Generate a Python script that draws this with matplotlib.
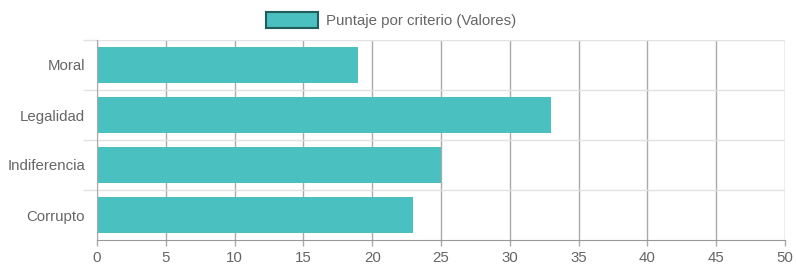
import matplotlib.pyplot as plt
from matplotlib.patches import Patch
import numpy as np

plt.rcParams['font.family'] = ['Liberation Sans', 'DejaVu Sans']

# Data
categories = ['Moral', 'Legalidad', 'Indiferencia', 'Corrupto']
values = [19, 33, 25, 23]
x_ticks = [0, 5, 10, 15, 20, 25, 30, 35, 40, 45, 50]
legend_label = 'Puntaje por criterio (Valores)'

bar_color = '#4BC0C0'
text_color = '#666666'
fs = 10.8

fig = plt.figure(figsize=(7.96, 2.75), dpi=100)
ax = fig.add_axes([97 / 796, 1 - 240 / 275, (785 - 97) / 796, 200 / 275])

y = np.arange(len(categories))
ax.barh(y, values, height=0.72, color=bar_color, zorder=2)

ax.set_xlim(0, 50)
ax.set_ylim(len(categories) - 0.5, -0.5)

# x axis
ax.set_xticks(x_ticks)
ax.set_xticklabels([str(t) for t in x_ticks])
ax.tick_params(axis='x', length=4, width=1, color='#aaaaaa', pad=4,
               labelsize=fs, labelcolor=text_color)
ax.grid(axis='x', color='#aaaaaa', linewidth=1, zorder=0)

# y axis: labels at centres, grid lines at band edges
ax.set_yticks(y)
ax.set_yticklabels(categories)
ax.tick_params(axis='y', which='major', length=0, pad=8.5,
               labelsize=fs, labelcolor=text_color)
ax.set_yticks(np.arange(len(categories)) - 0.5, minor=True)
ax.tick_params(axis='y', which='minor', length=10, width=1, color='#e2e2e2')
ax.grid(axis='y', which='minor', color='#e2e2e2', linewidth=1, zorder=0)

for side in ['top', 'right']:
    ax.spines[side].set_visible(False)
ax.spines['left'].set_color('#aaaaaa')
ax.spines['bottom'].set_color('#999999')

# Legend
handle = Patch(facecolor=bar_color, edgecolor='#1f5c5c', linewidth=1.5)
fig.legend([handle], [legend_label], loc='center',
           bbox_to_anchor=(391 / 796, 1 - 20 / 275), frameon=False,
           handlelength=3.5, handleheight=1.2, handletextpad=0.5,
           fontsize=fs, labelcolor=text_color)

fig.savefig('out.png', dpi=100)
